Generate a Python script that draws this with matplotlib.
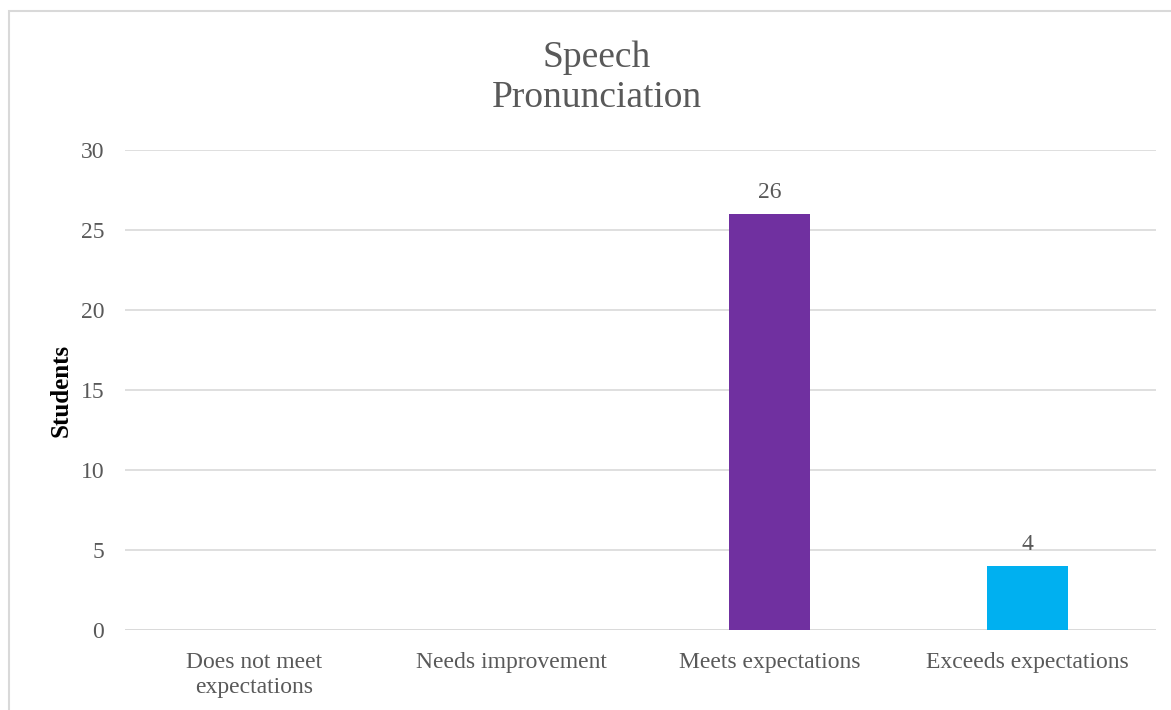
import matplotlib
matplotlib.use('Agg')
import matplotlib.pyplot as plt
from matplotlib.patches import Rectangle

# 数据
categories = ['Does not meet\nexpectations', 'Needs improvement',
              'Meets expectations', 'Exceeds expectations']
students = [0, 0, 26, 4]
bar_colors = ['#4472C4', '#ED7D31', '#7030A0', '#00B0F0']
y_ticks = [0, 5, 10, 15, 20, 25, 30]

text_gray = '#595959'
grid_gray = '#D9D9D9'

plt.rcParams['font.family'] = ['Liberation Serif', 'DejaVu Serif']

W, H = 1171, 710
fig = plt.figure(figsize=(W / 100, H / 100), dpi=100)
ax = fig.add_axes([125 / W, 1 - 630 / H, (1156 - 125) / W, (630 - 150) / H])

x = list(range(len(categories)))
bars = ax.bar(x, students, width=0.315, color=bar_colors, zorder=3)

# 数据标签（只标非零值）
for xi, v in zip(x, students):
    if v > 0:
        ax.annotate(str(v), (xi, v), xytext=(0, 8), textcoords='offset points',
                    ha='center', va='bottom', fontsize=17, color=text_gray)

ax.set_xlim(-0.5, len(categories) - 0.5)
ax.set_ylim(0, 30)
ax.set_yticks(y_ticks)
ax.set_xticks(x)
ax.set_xticklabels(categories, fontsize=17, color=text_gray, linespacing=1.22)
ax.tick_params(axis='y', labelsize=17, labelcolor=text_gray, length=0, pad=15)
ax.tick_params(axis='x', length=0, pad=16)

ax.yaxis.grid(True, color=grid_gray, linewidth=1.2, zorder=0)
for s in ax.spines.values():
    s.set_visible(False)
ax.axhline(0, color=grid_gray, linewidth=1.2, zorder=2)

ax.set_ylabel('Students', fontsize=18, fontweight='bold', color='black', labelpad=6)

fig.text(597 / W, 1 - 78 / H, 'Speech\nPronunciation', ha='center', va='center',
         fontsize=27, color=text_gray, linespacing=1.2)

# 图表外框
fig.patches.append(Rectangle((8.5, -20), W + 40, H - 11 + 20, transform=None,
                             fill=False, edgecolor=grid_gray, linewidth=1.5))

fig.savefig('out.png', dpi=100, facecolor='white')
